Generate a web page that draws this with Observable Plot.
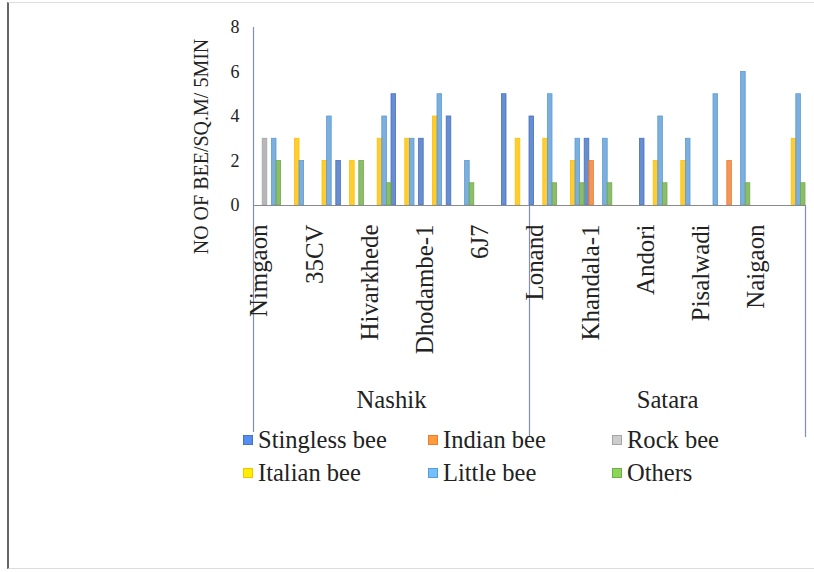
<!DOCTYPE html>
<html><head><meta charset="utf-8">
<script src="https://cdn.jsdelivr.net/npm/d3@7"></script>
<script src="https://cdn.jsdelivr.net/npm/@observablehq/plot@0.6"></script>
<style>
body{margin:0;background:#fff;}
#frame{position:absolute;left:7px;top:2px;width:840px;height:565px;border-left:2px solid #666;border-top:1px solid #ddd;border-bottom:1px solid #ddd;}
#chart{position:absolute;left:0;top:0;}
#legend{position:absolute;left:0;top:0;width:814px;height:572px;color:#222;pointer-events:none;}
.item{position:absolute;display:flex;align-items:center;line-height:1;white-space:nowrap;}
.sw{width:8px;height:8px;margin-right:5px;border:1.5px solid;}
</style></head><body>
<div id="frame"></div>
<div id="chart"></div>
<div id="legend"></div>
<script>
// Categories (20 sites; Excel shows only every other label)
const sites = ["Nimgaon","","35CV","","Hivarkhede","","Dhodambe-1","","6J7","",
               "Lonand","","Khandala-1","","Andori","","Pisalwadi","","Naigaon",""];
const districts = ["Nashik","Satara"];
const series = ["Stingless bee","Indian bee","Rock bee","Italian bee","Little bee","Others"];
const colors = ["#4472C4","#ED7D31","#A5A5A5","#FFC000","#5B9BD5","#70AD47"];
// Values: NO OF BEE/SQ.M/ 5MIN
const stingless = [0,0,0,2,0,5,3,4,0,5, 4,0,3,0,3,0,0,0,0,0];
const indian    = [0,0,0,0,0,0,0,0,0,0, 0,0,2,0,0,0,0,2,0,0];
const rock      = [3,0,0,0,0,0,0,0,0,0, 0,0,0,0,0,0,0,0,0,0];
const italian   = [0,3,2,2,3,3,4,0,0,3, 3,2,0,0,2,2,0,0,0,3];
const little    = [3,2,4,0,4,3,5,2,0,0, 5,3,3,0,4,3,5,6,0,5];
const others    = [2,0,0,2,1,0,0,1,0,0, 1,1,1,0,1,0,0,1,0,1];
const yTicks = [0,2,4,6,8];
const yTitle = "NO OF BEE/SQ.M/ 5MIN";

const seriesValues = [stingless, indian, rock, italian, little, others];
const rows = [];
seriesValues.forEach((vals, k) => vals.forEach((v, i) => { if (v > 0) rows.push({i, k, v}); }));
const siteRows = sites.map((s, i) => ({i, s})).filter(d => d.s);
const nSeries = series.length;
const perDistrict = sites.length / districts.length;
const serif = "'Liberation Serif', 'Times New Roman', 'DejaVu Serif', 'Noto Serif', serif";

// font sizes fitted so the text lengths match the reference
const ctx = document.createElement("canvas").getContext("2d");
function fit(text, target, max) {
  ctx.font = "100px " + serif;
  return Math.min(max, 100 * target / ctx.measureText(text).width);
}
const titleSize = fit(yTitle, 232, 20);
const siteSize = fit("Hivarkhede", 116, 25);
const distSize = fit("Nashik", 70, 25);
const legendSize = fit("Rock bee", 92, 25);
const tickSize = fit("8", 9, 18);

const chart = Plot.plot({
  width: 814, height: 450,
  marginLeft: 253, marginRight: 9, marginTop: 27, marginBottom: 245,
  x: {domain: [0, sites.length], axis: null},
  y: {domain: [0, 8], axis: null},
  style: {fontFamily: serif, color: "#222", background: "transparent", overflow: "visible"},
  marks: [
    Plot.rectY(rows, {
      x1: d => d.i + d.k / nSeries, x2: d => d.i + (d.k + 1) / nSeries, y: "v",
      fill: d => colors[d.k], fillOpacity: 0.8, stroke: d => colors[d.k], strokeWidth: 0.8
    }),
    Plot.ruleY([0], {stroke: "#8a8a8a", strokeWidth: 1.2}),
    Plot.ruleX([0], {stroke: "#7f8fb0", strokeWidth: 1.2, insetBottom: -227}),
    Plot.ruleX([perDistrict, sites.length], {stroke: "#7f8fb0", strokeWidth: 1.2, insetTop: 178, insetBottom: -232}),
    Plot.axisY(yTicks, {tickSize: 0, tickPadding: 14, fontSize: tickSize, fontFamily: serif, label: null}),
    Plot.text([yTitle], {frameAnchor: "left", textAnchor: "middle", rotate: -90, dx: -52, dy: 30,
      fontSize: titleSize, fontFamily: serif}),
    Plot.text(siteRows, {x: d => d.i + 0.5, text: "s", frameAnchor: "bottom", rotate: -90,
      textAnchor: "end", dy: 19, fontSize: siteSize, fontFamily: serif}),
    Plot.text(districts, {x: (d, j) => j * perDistrict + perDistrict / 2, text: d => d,
      frameAnchor: "bottom", dy: 202, fontSize: distSize, fontFamily: serif})
  ]
});
document.getElementById("chart").appendChild(chart);

// Legend
const lefts = [243, 428, 612];
const tops = [428, 461];
const legend = document.getElementById("legend");
legend.style.fontFamily = serif;
legend.style.fontSize = legendSize + "px";
series.forEach((s, k) => {
  const it = document.createElement("div");
  it.className = "item";
  it.style.left = lefts[k % 3] + "px";
  it.style.top = tops[Math.floor(k / 3)] + "px";
  const sw = document.createElement("span");
  sw.className = "sw";
  sw.style.background = d3.color(colors[k]).brighter(0.6).formatHex();
  sw.style.borderColor = colors[k];
  const tx = document.createElement("span");
  tx.textContent = s;
  it.appendChild(sw); it.appendChild(tx);
  legend.appendChild(it);
});
</script>
</body></html>
